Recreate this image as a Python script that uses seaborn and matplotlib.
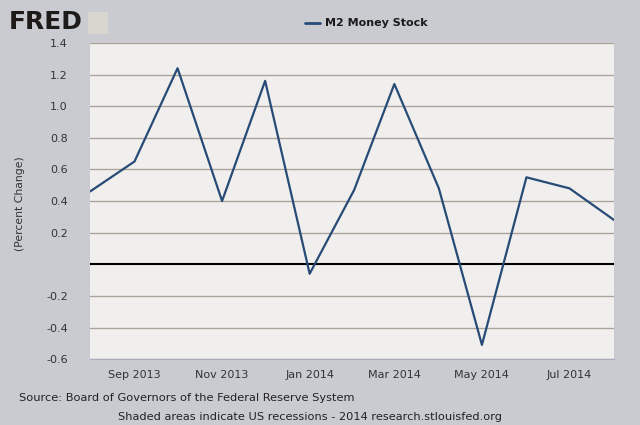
import pandas as pd
import matplotlib.pyplot as plt
import matplotlib.dates as mdates
import seaborn as sns

# M2 money stock, percent change, monthly
months = ["2013-08", "2013-09", "2013-10", "2013-11", "2013-12", "2014-01", "2014-02",
          "2014-03", "2014-04", "2014-05", "2014-06", "2014-07", "2014-08"]
pct_change = [0.46, 0.65, 1.24, 0.40, 1.16, -0.06, 0.47, 1.14, 0.48, -0.51, 0.55, 0.48, 0.28]
y_ticks = [1.4, 1.2, 1.0, 0.8, 0.6, 0.4, 0.2, -0.2, -0.4, -0.6]
x_ticks = ["2013-09", "2013-11", "2014-01", "2014-03", "2014-05", "2014-07"]

m2 = pd.DataFrame({"Date": pd.to_datetime(months), "Change": pct_change})

sns.set_style("white")
plt.rcParams["font.family"] = ["DejaVu Sans"]

bg = "#c9cbd1"
fig = plt.figure(figsize=(6.4, 4.25), dpi=100, facecolor=bg)
ax = fig.add_axes([0.1406, 0.155, 0.8188, 0.744])
ax.set_facecolor("#f1efed")

for v in y_ticks:
    ax.axhline(v, color="#aaa39c", lw=1.0, zorder=1)
ax.axhline(0, color="black", lw=1.5, zorder=2)

sns.lineplot(data=m2, x="Date", y="Change", color="#274b76", lw=1.6, ax=ax, zorder=3)

ax.set_xlim(m2["Date"].min(), m2["Date"].max())
ax.set_ylim(-0.6, 1.4)
ax.set_yticks(y_ticks)
ax.set_yticklabels([f"{v:.1f}" for v in y_ticks])
ax.set_xticks(pd.to_datetime(x_ticks))
ax.xaxis.set_major_formatter(mdates.DateFormatter("%b %Y"))
ax.tick_params(axis="y", length=0, pad=16, labelsize=8, labelcolor="#333333")
ax.tick_params(axis="x", length=5, width=1, color="#a9adbb", pad=3,
               labelsize=8, labelcolor="#333333")
ax.set_xlabel("")
ax.set_ylabel("")
for s in ["left", "right", "top"]:
    ax.spines[s].set_visible(False)
ax.spines["bottom"].set_color("#a9adbb")

fig.text(0.031, 0.52, "(Percent Change)", rotation=90, ha="center", va="center",
         fontsize=7.8, color="#333333")

# header
fig.text(0.014, 0.948, "FRED", fontsize=18, fontweight="bold", color="#1e1a1a",
         va="center", ha="left")
icon = fig.add_axes([0.138, 0.92, 0.031, 0.052], facecolor="#d9d6cf")
icon.set_xticks([])
icon.set_yticks([])
for s in icon.spines.values():
    s.set_visible(False)
fig.lines.append(plt.Line2D([0.477, 0.5], [0.946, 0.946], transform=fig.transFigure,
                            color="#274b76", lw=2))
fig.text(0.508, 0.946, "M2 Money Stock", fontsize=8, fontweight="bold",
         color="#1a1a1a", va="center", ha="left")

# footer
fig.text(0.029, 0.063, "Source: Board of Governors of the Federal Reserve System",
         fontsize=8.2, color="#222222", va="center", ha="left")
fig.text(0.484, 0.02, "Shaded areas indicate US recessions - 2014 research.stlouisfed.org",
         fontsize=8.2, color="#222222", va="center", ha="center")

fig.savefig("out.png", dpi=100, facecolor=bg)
